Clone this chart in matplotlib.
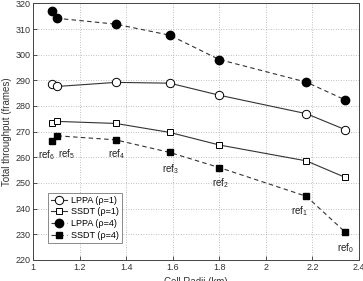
import matplotlib
matplotlib.use("Agg")
import matplotlib.pyplot as plt

radii = [1.083, 1.102, 1.355, 1.587, 1.80, 2.174, 2.34]
lppa_rho1 = [288.5, 287.6, 289.2, 288.9, 284.2, 277.0, 270.8]
ssdt_rho1 = [273.5, 274.0, 273.2, 269.7, 264.8, 258.6, 252.2]
lppa_rho4 = [317.0, 314.2, 311.9, 307.6, 298.1, 289.3, 282.4]
ssdt_rho4 = [266.3, 268.4, 266.8, 261.9, 256.0, 244.8, 230.9]
ref_labels = ["ref$_6$", "ref$_5$", "ref$_4$", "ref$_3$", "ref$_2$", "ref$_1$", "ref$_0$"]
xticks = [1, 1.2, 1.4, 1.6, 1.8, 2, 2.2, 2.4]
yticks = [220, 230, 240, 250, 260, 270, 280, 290, 300, 310, 320]

plt.rcParams['font.family'] = ['Liberation Sans', 'DejaVu Sans']
plt.rcParams['mathtext.fontset'] = 'custom'
plt.rcParams['mathtext.rm'] = 'Liberation Sans'
plt.rcParams['mathtext.it'] = 'Liberation Sans'
fig = plt.figure(figsize=(3.63, 2.81), dpi=100)
ax = fig.add_axes([0.091, 0.075, 0.898, 0.913])

ms = 6
ax.plot(radii, lppa_rho1, '-', color='#333333', lw=0.8, marker='o', ms=ms,
        mfc='white', mec='black', mew=0.7, label='LPPA (ρ=1)')
ax.plot(radii, ssdt_rho1, '-', color='#333333', lw=0.8, marker='s', ms=4.5,
        mfc='white', mec='black', mew=0.7, label='SSDT (ρ=1)')
ax.plot(radii, lppa_rho4, '--', color='#333333', lw=0.8, marker='o', ms=ms,
        mfc='black', mec='black', label='LPPA (ρ=4)', dashes=(4, 3))
ax.plot(radii, ssdt_rho4, '--', color='#333333', lw=0.8, marker='s', ms=4.5,
        mfc='black', mec='black', label='SSDT (ρ=4)', dashes=(4, 3))

# ref labels (offsets in points)
offsets = [(-4.5, -5), (7, -8.5), (0.5, -5), (0.5, -7), (0.5, -6.5), (-5, -6), (0.5, -6.5)]
for x, y, lab, (dx, dy) in zip(radii, ssdt_rho4, ref_labels, offsets):
    ax.annotate(lab, (x, y), xytext=(dx, dy), textcoords='offset points',
                fontsize=7, ha='center', va='top', color='#222222')

ax.set_xlim(1, 2.4)
ax.set_ylim(220, 320)
ax.set_xticks(xticks)
ax.set_xticklabels([f"{t:g}" for t in xticks])
ax.set_yticks(yticks)
ax.tick_params(direction='in', labelsize=6.5, length=3, width=0.6, colors='#333333', pad=2)
for s in ax.spines.values():
    s.set_linewidth(0.7)
    s.set_color('#444444')
ax.grid(True, linestyle=(0, (1, 2)), color='#aaaaaa', lw=0.6)
ax.set_xlabel('Cell Radii (km)', fontsize=7, labelpad=4, color='#333333')
ax.set_ylabel('Total throughput (frames)', fontsize=7, labelpad=2, color='#333333')

leg = ax.legend(loc='lower left', bbox_to_anchor=(0.045, 0.066), fontsize=6.5,
                frameon=True, fancybox=False, edgecolor='#555555', handlelength=1.8,
                borderpad=0.35, labelspacing=0.3, handletextpad=0.45,
                borderaxespad=0)
leg.get_frame().set_linewidth(0.6)

fig.savefig('out.png', dpi=100)
